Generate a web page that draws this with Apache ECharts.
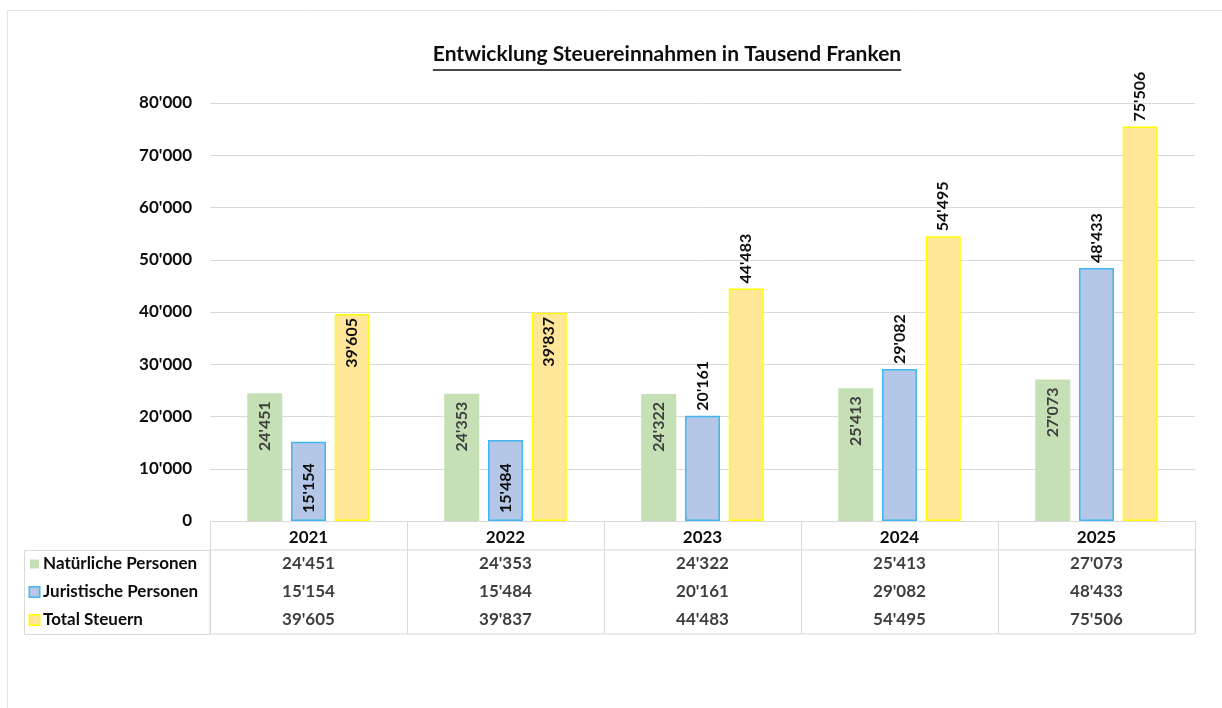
<!DOCTYPE html>
<html>
<head>
<meta charset="utf-8">
<script src="https://cdn.jsdelivr.net/npm/echarts@6/dist/echarts.min.js"></script>
<style>
html, body { margin: 0; padding: 0; background: #fff; }
#main { width: 1222px; height: 708px; }
</style>
</head>
<body>
<div id="main"></div>
<script>
var years = ['2021', '2022', '2023', '2024', '2025'];
var natuerlich = [24451, 24353, 24322, 25413, 27073];
var juristisch = [15154, 15484, 20161, 29082, 48433];
var total = [39605, 39837, 44483, 54495, 75506];
var seriesNames = ['Natürliche Personen', 'Juristische Personen', 'Total Steuern'];
var yMax = 80000, yStep = 10000;
var titleText = 'Entwicklung Steuereinnahmen in Tausend Franken';

var font = 'Lato';
var fills = ['#C5E0B4', '#B4C7E7', '#FFE699'];
var borders = ['#C5E0B4', '#41B6F0', '#FFFF00'];
var lineCol = '#d9d9d9';

// 1000er Trennzeichen mit Apostroph
function fmt(v) {
    return String(v).replace(/\B(?=(\d{3})+(?!\d))/g, "'");
}

// Beschriftung der Säulen: Natürliche immer innen oben, sonst die ersten zwei Jahre innen
function barData(values, s) {
    return values.map(function (v, i) {
        var lab;
        if (s == 0) {
            lab = { position: 'insideTop', align: 'right', verticalAlign: 'middle', distance: 8, color: '#404040' };
        } else if (i < 2) {
            if (s == 1) lab = { position: 'insideBottom', align: 'left', verticalAlign: 'middle', distance: 8 };
            else lab = { position: 'insideTop', align: 'right', verticalAlign: 'middle', distance: 4 };
        } else {
            lab = { position: 'top', align: 'left', verticalAlign: 'middle', distance: 5 };
        }
        return { value: v, label: lab };
    });
}

var allSeries = [natuerlich, juristisch, total];
var tableData = [];
allSeries.forEach(function (arr, r) {
    arr.forEach(function (v, c) {
        tableData.push([c, r, v]);
    });
});

var rich = {};
['g', 'b', 'y'].forEach(function (k, i) {
    rich[k] = { width: 9, height: 9, backgroundColor: fills[i], borderColor: borders[i], borderWidth: i == 0 ? 0 : 1.5 };
});
rich.t = { fontFamily: font, fontWeight: 'bold', fontSize: 17, color: '#0d0d0d', padding: [0, 0, 0, 4] };

// Breite des Titels für die Unterstreichung
var titleSize = 21;
var cv = document.createElement('canvas').getContext('2d');
cv.font = 'bold ' + titleSize + 'px ' + font;
var titleW = cv.measureText(titleText).width;
var titleX = 667;

var chart = echarts.init(document.getElementById('main'));
var option = {
    animation: false,
    backgroundColor: '#fff',
    title: {
        text: titleText,
        left: titleX,
        top: 44,
        padding: 0,
        textAlign: 'center',
        textStyle: { fontFamily: font, fontWeight: 'bold', fontSize: titleSize, color: '#0d0d0d' }
    },
    graphic: [
        { type: 'rect', shape: { x: 7.5, y: 10.5, width: 1300, height: 800 }, style: { fill: 'none', stroke: '#e3e3e3', lineWidth: 1 } },
        { type: 'line', shape: { x1: titleX - titleW / 2, y1: 70, x2: titleX + titleW / 2, y2: 70 }, style: { stroke: '#0d0d0d', lineWidth: 1.3 } },
        { type: 'rect', shape: { x: 24.5, y: 550.5, width: 186, height: 84 }, style: { fill: 'none', stroke: lineCol, lineWidth: 1 } }
    ],
    grid: [
        { left: 210, right: 27, top: 103, bottom: 187 },
        { left: 210, right: 27, top: 550, bottom: 74, show: true, borderColor: lineCol, borderWidth: 1 }
    ],
    xAxis: [
        {
            gridIndex: 0, type: 'category', data: years,
            axisLine: { lineStyle: { color: lineCol } },
            axisTick: { show: true, interval: 0, length: 29, lineStyle: { color: lineCol } },
            axisLabel: { fontFamily: font, fontWeight: 'bold', fontSize: 17, color: '#0d0d0d', margin: 8 }
        },
        {
            gridIndex: 1, type: 'category', data: years,
            axisLine: { show: false }, axisTick: { show: false }, axisLabel: { show: false },
            splitLine: { show: true, interval: 0, lineStyle: { color: lineCol } }
        }
    ],
    yAxis: [
        {
            gridIndex: 0, type: 'value', min: 0, max: yMax, interval: yStep,
            axisLine: { show: false }, axisTick: { show: false },
            axisLabel: { formatter: fmt, fontFamily: font, fontWeight: 'bold', fontSize: 17, color: '#0d0d0d', margin: 18 },
            splitLine: { lineStyle: { color: lineCol } }
        },
        {
            gridIndex: 1, type: 'category', inverse: true, data: seriesNames,
            axisLine: { show: false }, axisTick: { show: false }, splitLine: { show: false },
            axisLabel: {
                align: 'left', margin: 180, rich: rich,
                formatter: function (v, i) {
                    return '{' + ['g', 'b', 'y'][i] + '|}{t|' + v + '}';
                }
            }
        }
    ],
    series: allSeries.map(function (arr, s) {
        return {
            name: seriesNames[s],
            type: 'bar',
            xAxisIndex: 0, yAxisIndex: 0,
            barWidth: 35,
            barGap: '25%',
            data: barData(arr, s),
            itemStyle: { color: fills[s], borderColor: borders[s], borderWidth: s == 0 ? 0 : 1.5 },
            label: {
                show: true, rotate: 90, formatter: function (p) { return fmt(p.value); },
                fontFamily: font, fontWeight: 'bold', fontSize: 16, color: '#0d0d0d'
            }
        };
    }).concat([{
        type: 'scatter',
        xAxisIndex: 1, yAxisIndex: 1,
        symbolSize: 1,
        itemStyle: { color: 'rgba(0,0,0,0)' },
        data: tableData,
        label: {
            show: true, position: 'inside',
            formatter: function (p) { return fmt(p.value[2]); },
            fontFamily: font, fontWeight: 'bold', fontSize: 17, color: '#0d0d0d'
        }
    }])
};
chart.setOption(option);
</script>
</body>
</html>
